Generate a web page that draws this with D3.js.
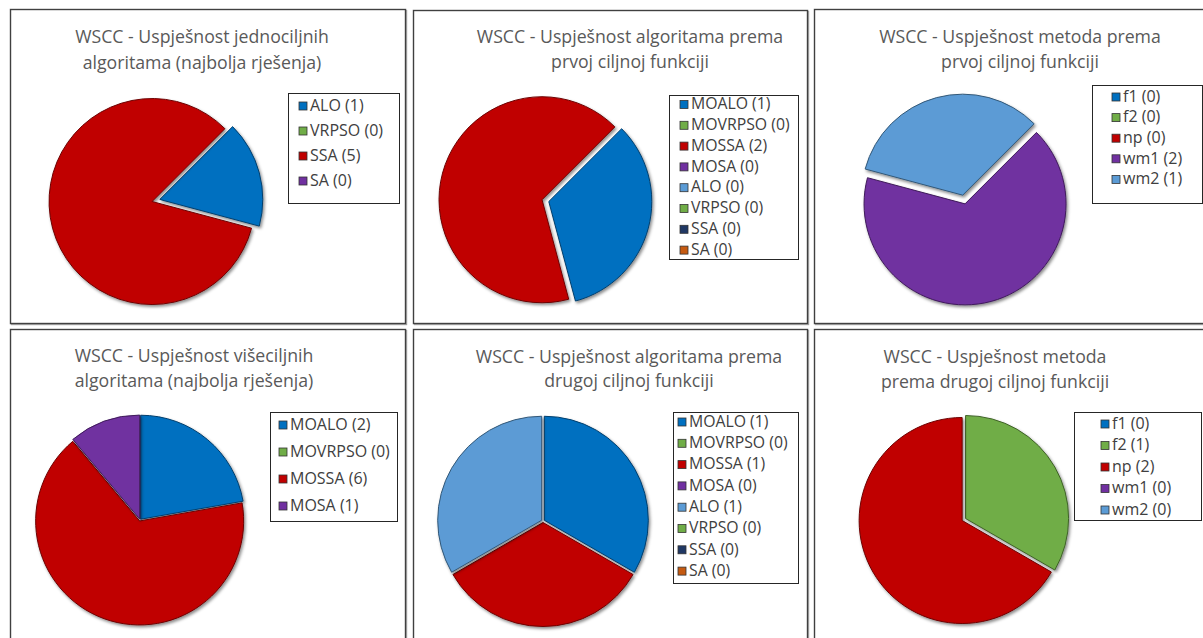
<!DOCTYPE html>
<html><head><meta charset="utf-8">
<script src="https://cdn.jsdelivr.net/npm/d3@7"></script>
<style>
html,body{margin:0;padding:0;background:#fff;}
svg{display:block;font-family:"Open Sans","Noto Sans",sans-serif;}
</style></head>
<body>
<svg id="chart" width="1203" height="638"></svg>
<script>
// ---------- data ----------
const titles = [
  ["WSCC - Uspješnost jednociljnih", "algoritama (najbolja rješenja)"],
  ["WSCC - Uspješnost algoritama prema", "prvoj ciljnoj funkciji"],
  ["WSCC - Uspješnost metoda prema", "prvoj ciljnoj funkciji"],
  ["WSCC - Uspješnost višeciljnih", "algoritama (najbolja rješenja)"],
  ["WSCC - Uspješnost algoritama prema", "drugoj ciljnoj funkciji"],
  ["WSCC - Uspješnost metoda", "prema drugoj ciljnoj funkciji"]
];
const catsSingle = ["ALO", "VRPSO", "SSA", "SA"];
const valsSingle = [1, 0, 5, 0];
const catsAlgo = ["MOALO", "MOVRPSO", "MOSSA", "MOSA", "ALO", "VRPSO", "SSA", "SA"];
const valsAlgoF1 = [1, 0, 2, 0, 0, 0, 0, 0];
const valsAlgoF2 = [1, 0, 1, 0, 1, 0, 0, 0];
const catsMethod = ["f1", "f2", "np", "wm1", "wm2"];
const valsMethodF1 = [0, 0, 0, 2, 1];
const valsMethodF2 = [0, 1, 2, 0, 0];
const catsMulti = ["MOALO", "MOVRPSO", "MOSSA", "MOSA"];
const valsMulti = [2, 0, 6, 1];

// ---------- colours ----------
const colSingle = ["#0070C0", "#70AD47", "#C00000", "#7030A0"];
const colAlgo = ["#0070C0", "#70AD47", "#C00000", "#7030A0", "#5B9BD5", "#70AD47", "#203864", "#C55A11"];
const colMethod = ["#0070C0", "#70AD47", "#C00000", "#7030A0", "#5B9BD5"];

// ---------- layout ----------
const panels = [
  {box:[10,9,395,314], cats:catsSingle, vals:valsSingle, cols:colSingle, title:titles[0], tx:202, ty:[38,64],
   cx:154, cy:201, r:103, rot:45, explode:[6,0,2,0], leg:[288,93,111,110], legX:11, legY0:106, legDy:25, fs:16},
  {box:[413,10,394,313], cats:catsAlgo, vals:valsAlgoF1, cols:colAlgo, title:titles[1], tx:630, ty:[38,63],
   cx:543, cy:200, r:103, rot:45, explode:[6,0,1,0,0,0,0,0], leg:[669,95,129,164], legX:11, legY0:104.5, legDy:20.8, fs:15.8},
  {box:[814,9,400,314], cats:catsMethod, vals:valsMethodF1, cols:colMethod, title:titles[2], tx:1020, ty:[38,63],
   cx:964, cy:200, r:101, rot:45, explode:[0,0,0,4,5], leg:[1092,85,110,118], legX:20, legY0:97, legDy:20.6, fs:16},
  {box:[10,329,395,320], cats:catsMulti, vals:valsMulti, cols:colSingle, title:titles[3], tx:194, ty:[357,382],
   cx:140, cy:520, r:104, rot:0, explode:[1,0,1,1], leg:[270,412,127,109], legX:9, legY0:425, legDy:27, fs:16},
  {box:[413,329,394,320], cats:catsAlgo, vals:valsAlgoF2, cols:colAlgo, title:titles[4], tx:629, ty:[358,382],
   cx:543, cy:521, r:104, rot:0, explode:[1.5,0,1.5,0,1.5,0,0,0], leg:[673,412,125,171], legX:5, legY0:422, legDy:21.3, fs:15.8},
  {box:[814,329,400,320], cats:catsMethod, vals:valsMethodF2, cols:colMethod, title:titles[5], tx:995, ty:[358,383],
   cx:963, cy:520, r:103, rot:0, explode:[0,3,1,0,0], leg:[1074,412,127,108], legX:27, legY0:424, legDy:21.5, fs:16}
];

const svg = d3.select("#chart");
const defs = svg.append("defs");
const f = defs.append("filter").attr("id","sh").attr("x","-20%").attr("y","-20%").attr("width","140%").attr("height","140%");
f.append("feDropShadow").attr("dx",1.5).attr("dy",2).attr("stdDeviation",1.6).attr("flood-color","#000").attr("flood-opacity",0.45);
const fb = defs.append("filter").attr("id","bsh").attr("x","-5%").attr("y","-5%").attr("width","110%").attr("height","110%");
fb.append("feDropShadow").attr("dx",1).attr("dy",1).attr("stdDeviation",0.6).attr("flood-color","#000").attr("flood-opacity",0.35);

const toRad = d => d * Math.PI / 180;

panels.forEach(p => {
  const g = svg.append("g");
  // border
  g.append("rect").attr("x",p.box[0]+0.5).attr("y",p.box[1]+0.5).attr("width",p.box[2]).attr("height",p.box[3])
    .attr("fill","#fff").attr("stroke","#3f3f3f").attr("stroke-width",1.4).attr("filter","url(#bsh)");
  // title
  p.title.forEach((t,i) => {
    g.append("text").attr("x",p.tx).attr("y",p.ty[i]).attr("text-anchor","middle")
      .attr("dominant-baseline","middle").attr("font-size",17.7).attr("fill","#595959").text(t);
  });
  // pie
  const data = p.cats.map((c,i) => ({cat:c, val:p.vals[i], col:p.cols[i], ex:p.explode[i]}));
  const pie = d3.pie().value(d => d.val).sort(null).startAngle(toRad(p.rot)).endAngle(toRad(p.rot+360));
  const arcs = pie(data).filter(a => a.data.val > 0);
  const arc = d3.arc().innerRadius(0).outerRadius(p.r);
  const pg = g.append("g").attr("transform",`translate(${p.cx},${p.cy})`);
  pg.selectAll("path").data(arcs).join("path")
    .attr("d",arc)
    .attr("transform", a => {
      const m = (a.startAngle + a.endAngle)/2;
      return `translate(${Math.sin(m)*a.data.ex},${-Math.cos(m)*a.data.ex})`;
    })
    .attr("fill", a => a.data.col)
    .attr("stroke", a => d3.color(a.data.col).darker(1.6))
    .attr("stroke-width",1)
    .attr("stroke-linejoin","round")
    .attr("filter","url(#sh)");
  // legend
  const L = p.leg;
  g.append("rect").attr("x",L[0]+0.5).attr("y",L[1]+0.5).attr("width",L[2]).attr("height",L[3])
    .attr("fill","#fff").attr("stroke","#262626").attr("stroke-width",1);
  const items = g.append("g").selectAll("g").data(data).join("g")
    .attr("transform",(d,i) => `translate(${L[0]+p.legX},${p.legY0 + i*p.legDy})`);
  items.append("rect").attr("x",0).attr("y",-4).attr("width",8).attr("height",8)
    .attr("fill",d => d.col).attr("stroke","#333").attr("stroke-width",0.8);
  items.append("text").attr("x",11).attr("y",0.5).attr("dominant-baseline","middle")
    .attr("font-size",p.fs).attr("fill","#404040").text(d => `${d.cat} (${d.val})`);
});
</script>
</body></html>
